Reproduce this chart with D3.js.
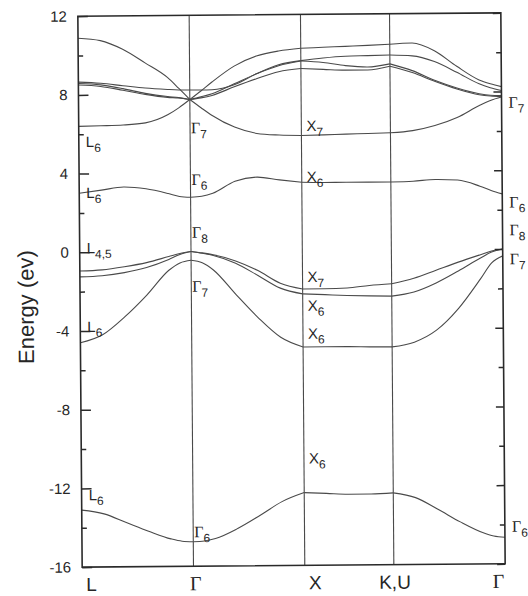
<!DOCTYPE html>
<html>
<head>
<meta charset="utf-8">
<script src="https://cdn.jsdelivr.net/npm/d3@7"></script>
<style>
  body { margin: 0; background: #fff; }
  svg { display: block; }
  text { font-family: "Liberation Sans", Arial, sans-serif; fill: #262626; }
  .serif { font-family: "Liberation Serif", "Times New Roman", serif; }
</style>
</head>
<body>
<div id="wrapper"></div>
<script>
/* global d3 */

// k along the path L - Γ - X - K,U - Γ  (Γ-X = 1)
const kGrid = [0, 0.2, 0.4, 0.6, 0.8, 0.9, 1.0, 1.1, 1.2, 1.4, 1.6, 1.8, 2.0, 2.2, 2.4, 2.6, 2.8, 3.0, 3.2, 3.4, 3.6, 3.7, 3.8];
const symmetryK = [0, 1, 2, 2.8, 3.8];
const symmetryNames = ["L", "Γ", "X", "K,U", "Γ"];

const energyTicks = [12, 8, 4, 0, -4, -8, -12, -16];
const energyMinorTicks = [10, 6, 2, -2, -6, -10, -14];

// band energies (eV) at each kGrid point
const band1 = [-13.1, -13.3, -13.75, -14.2, -14.6, -14.72, -14.75, -14.72, -14.6, -14.1, -13.45, -12.75, -12.3, -12.35, -12.4, -12.4, -12.35, -12.6, -13.2, -13.85, -14.4, -14.58, -14.65];
const band2 = [-4.6, -4.2, -3.3, -2.2, -0.95, -0.58, -0.45, -0.58, -0.95, -2.2, -3.4, -4.4, -4.9, -4.9, -4.9, -4.92, -4.93, -4.7, -4.1, -3.0, -1.5, -0.7, -0.35];
const band3 = [-0.95, -0.9, -0.75, -0.55, -0.25, -0.1, 0, -0.08, -0.18, -0.5, -1.0, -1.65, -1.95, -1.95, -1.92, -1.8, -1.72, -1.45, -1.05, -0.65, -0.28, -0.1, 0];
const band4 = [-1.25, -1.2, -1.05, -0.8, -0.4, -0.15, 0, -0.1, -0.22, -0.62, -1.25, -1.9, -2.2, -2.25, -2.3, -2.33, -2.35, -2.15, -1.7, -1.1, -0.45, -0.15, 0];
const band5 = [3.0, 3.15, 3.3, 3.2, 2.95, 2.8, 2.75, 2.8, 2.95, 3.55, 3.75, 3.6, 3.47, 3.45, 3.45, 3.45, 3.45, 3.48, 3.56, 3.52, 3.2, 2.98, 2.8];
const band6 = [6.4, 6.42, 6.45, 6.55, 6.95, 7.3, 7.72, 7.3, 6.9, 6.3, 5.97, 5.88, 5.85, 5.87, 5.9, 5.92, 5.95, 6.05, 6.3, 6.7, 7.3, 7.55, 7.72];
const band7 = [10.88, 10.75, 10.3, 9.6, 8.85, 8.3, 7.72, 8.15, 8.6, 9.4, 9.9, 10.15, 10.28, 10.32, 10.36, 10.4, 10.45, 10.5, 10.1, 9.3, 8.6, 8.4, 8.25];
const band8 = [8.65, 8.58, 8.45, 8.32, 8.24, 8.21, 8.2, 8.2, 8.21, 8.45, 9.0, 9.45, 9.65, 9.78, 9.86, 9.88, 9.9, 9.85, 9.55, 9.0, 8.4, 8.2, 8.05];
const band9 = [8.58, 8.5, 8.3, 8.05, 7.88, 7.82, 7.72, 7.85, 8.0, 8.5, 9.0, 9.4, 9.63, 9.55, 9.38, 9.3, 9.45, 9.1, 8.6, 8.2, 7.9, 7.82, 7.8];
const band10 = [8.5, 8.42, 8.22, 8.0, 7.84, 7.8, 7.72, 7.8, 7.92, 8.35, 8.75, 9.1, 9.25, 9.2, 9.15, 9.15, 9.33, 9.0, 8.55, 8.15, 7.85, 7.78, 7.75];
const bands = [band1, band2, band3, band4, band5, band6, band7, band8, band9, band10];

// symmetry labels: point name, subscript, k, energy of the baseline
const levelLabels = [
  { name: "L", sub: "6", k: 0, e: 5.35 },
  { name: "L", sub: "6", k: 0, e: 2.75 },
  { name: "L", sub: "4,5", k: 0, e: -0.05 },
  { name: "L", sub: "6", k: 0, e: -4.05 },
  { name: "L", sub: "6", k: 0, e: -12.6 },
  { name: "Γ", sub: "7", k: 1, e: 6.0 },
  { name: "Γ", sub: "6", k: 1, e: 3.38 },
  { name: "Γ", sub: "8", k: 1, e: 0.69 },
  { name: "Γ", sub: "7", k: 1, e: -2.05 },
  { name: "Γ", sub: "6", k: 1, e: -14.53 },
  { name: "X", sub: "7", k: 2, e: 6.07 },
  { name: "X", sub: "6", k: 2, e: 3.48 },
  { name: "X", sub: "7", k: 2, e: -1.6 },
  { name: "X", sub: "6", k: 2, e: -3.06 },
  { name: "X", sub: "6", k: 2, e: -4.48 },
  { name: "X", sub: "6", k: 2, e: -10.83 },
  { name: "Γ", sub: "7", k: 3.8, e: 7.18 },
  { name: "Γ", sub: "6", k: 3.8, e: 2.11 },
  { name: "Γ", sub: "8", k: 3.8, e: 0.69 },
  { name: "Γ", sub: "7", k: 3.8, e: -0.78 },
  { name: "Γ", sub: "6", k: 3.8, e: -14.37 },
];

const dimensions = {
  width: 528,
  height: 596,
  margin: { top: 14.5, right: 25, bottom: 30.5, left: 80 },
};
dimensions.boundedWidth = dimensions.width - dimensions.margin.left - dimensions.margin.right;
dimensions.boundedHeight = dimensions.height - dimensions.margin.top - dimensions.margin.bottom;

// the scanned figure is a little tilted
const tilt = -0.45;
const cx = dimensions.margin.left + dimensions.boundedWidth / 2;
const cy = dimensions.margin.top + dimensions.boundedHeight / 2;

const ink = "#2a2a2a";
const lineInk = "#4a4a4a";

const svg = d3.select("#wrapper")
  .append("svg")
  .attr("width", dimensions.width)
  .attr("height", dimensions.height);

const page = svg.append("g")
  .attr("transform", `rotate(${tilt}, ${cx}, ${cy})`);

const bounds = page.append("g")
  .attr("transform", `translate(${dimensions.margin.left}, ${dimensions.margin.top})`);

const xScale = d3.scaleLinear()
  .domain([0, 3.8])
  .range([0, dimensions.boundedWidth]);

const yScale = d3.scaleLinear()
  .domain([-16, 12])
  .range([dimensions.boundedHeight, 0]);

// vertical lines at the symmetry points
bounds.selectAll("line.sym")
  .data(symmetryK.slice(1, -1))
  .enter()
  .append("line")
  .attr("class", "sym")
  .attr("x1", d => xScale(d))
  .attr("x2", d => xScale(d))
  .attr("y1", 0)
  .attr("y2", dimensions.boundedHeight)
  .attr("stroke", lineInk)
  .attr("stroke-width", 1.1);

// bands, drawn piece by piece between symmetry points
const lineGen = d3.line()
  .x(d => xScale(d[0]))
  .y(d => yScale(d[1]))
  .curve(d3.curveMonotoneX);

const pieces = [];
bands.forEach(band => {
  for (let s = 0; s < symmetryK.length - 1; s++) {
    const a = symmetryK[s], b = symmetryK[s + 1];
    const pts = kGrid
      .map((k, i) => [k, band[i]])
      .filter(p => p[0] >= a - 1e-9 && p[0] <= b + 1e-9);
    pieces.push(pts);
  }
});

bounds.selectAll("path.band")
  .data(pieces)
  .enter()
  .append("path")
  .attr("class", "band")
  .attr("d", lineGen)
  .attr("fill", "none")
  .attr("stroke", lineInk)
  .attr("stroke-width", 1.1);

// frame
bounds.append("rect")
  .attr("width", dimensions.boundedWidth)
  .attr("height", dimensions.boundedHeight)
  .attr("fill", "none")
  .attr("stroke", ink)
  .attr("stroke-width", 1.6);

// ticks, pointing inward
const styleAxis = g => {
  g.select(".domain").remove();
  g.attr("color", ink)
    .attr("font-family", "'Liberation Sans', Arial, sans-serif")
    .attr("font-size", 15);
  g.selectAll("line").attr("stroke-width", 1.5);
};

bounds.append("g")
  .call(d3.axisLeft(yScale).tickValues(energyTicks).tickSize(-10).tickPadding(11).tickFormat(d => String(d)))
  .call(styleAxis);

bounds.append("g")
  .call(d3.axisLeft(yScale).tickValues(energyMinorTicks).tickSize(-5).tickFormat(() => ""))
  .call(styleAxis);

bounds.append("g")
  .attr("transform", `translate(${dimensions.boundedWidth}, 0)`)
  .call(d3.axisRight(yScale).tickValues(energyTicks).tickSize(-8).tickFormat(() => ""))
  .call(styleAxis);

bounds.append("g")
  .attr("transform", `translate(${dimensions.boundedWidth}, 0)`)
  .call(d3.axisRight(yScale).tickValues(energyMinorTicks).tickSize(-5).tickFormat(() => ""))
  .call(styleAxis);

// symmetry point names under the axis
const nameAnchor = ["start", "middle", "start", "middle", "end"];
const nameShift = [4, 2, 4, 1, -1];
bounds.selectAll("text.kname")
  .data(symmetryNames)
  .enter()
  .append("text")
  .attr("class", (d) => d === "Γ" ? "kname serif" : "kname")
  .attr("x", (d, i) => xScale(symmetryK[i]) + nameShift[i])
  .attr("y", dimensions.boundedHeight + 24)
  .attr("text-anchor", (d, i) => nameAnchor[i])
  .style("font-size", d => d === "Γ" ? "20px" : "19px")
  .text(d => d);

// level labels
const labelShift = { 0: 7, 1: 1, 2: 5, 3.8: 7 };
const labels = bounds.selectAll("text.level")
  .data(levelLabels)
  .enter()
  .append("text")
  .attr("class", "level")
  .attr("x", d => xScale(d.k) + labelShift[d.k])
  .attr("y", d => yScale(d.e));

labels.append("tspan")
  .attr("class", d => d.name === "Γ" ? "serif" : null)
  .style("font-size", d => d.name === "Γ" ? "16px" : "15px")
  .text(d => d.name);

labels.append("tspan")
  .attr("dy", 5)
  .style("font-size", "12px")
  .text(d => d.sub);

// y axis title
page.append("text")
  .attr("transform", "translate(33.5, 305) rotate(-90)")
  .attr("text-anchor", "middle")
  .style("font-size", "22px")
  .text("Energy (ev)");
</script>
</body>
</html>
